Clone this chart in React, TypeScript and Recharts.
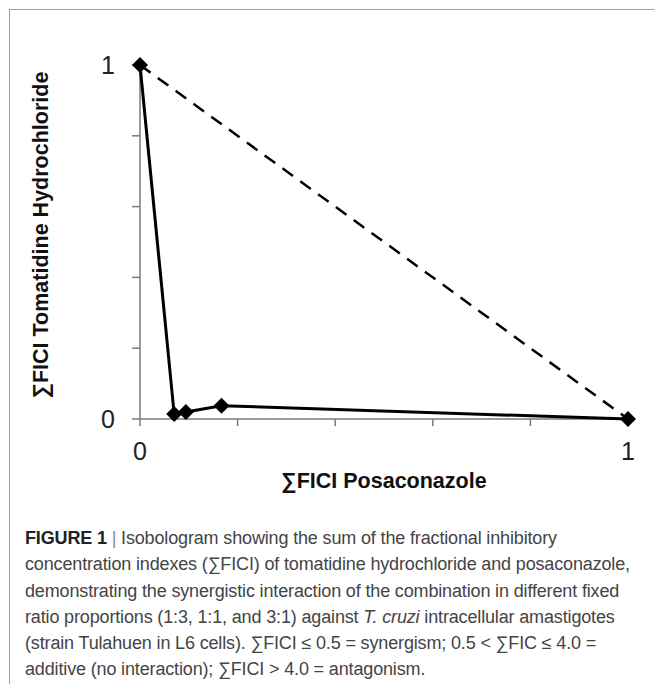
import React from "react";
import { ScatterChart, Scatter, XAxis, YAxis, Label } from "recharts";

// ∑FICI values (fixed ratios 1:3, 1:1, 3:1 between the single drugs)
const posaconazoleFici = [0, 0.07, 0.094, 0.167, 1];
const tomatidineFici = [1, 0.014, 0.02, 0.0375, 0];
// line of additivity
const additiveX = [0, 1];
const additiveY = [1, 0];
const axisTicks = [0, 0.2, 0.4, 0.6, 0.8, 1];
const labelledTicks = [0, 1];

const combination = posaconazoleFici.map((x, i) => ({ x, y: tomatidineFici[i] }));
const additivity = additiveX.map((x, i) => ({ x, y: additiveY[i] }));

const chartFont = "'Liberation Sans', Arial, sans-serif";
const captionFont = "'Liberation Sans', Arial, sans-serif";

const Diamond = (props: any) => {
    const { cx, cy } = props;
    const r = 8;
    return (
        <polygon
            points={`${cx},${cy - r} ${cx + r},${cy} ${cx},${cy + r} ${cx - r},${cy}`}
            fill="#000"
        />
    );
};

const NoShape = () => <g />;

const tickText = (v: number) => (labelledTicks.includes(v) ? String(v) : "");

const YTitle = (props: any) => {
    const vb = props.viewBox;
    const x = vb.x + 41;
    const y = vb.y + vb.height / 2 - 7;
    return (
        <text
            x={x}
            y={y}
            transform={`rotate(-90, ${x}, ${y})`}
            textAnchor="middle"
            dominantBaseline="central"
            fontFamily={chartFont}
            fontWeight="bold"
            fontSize={21.5}
            fill="#111"
        >
            ∑FICI Tomatidine Hydrochloride
        </text>
    );
};

const App = () => (
    <div
        style={{
            position: "absolute",
            left: 0,
            top: 0,
            width: 654,
            height: 684,
            background: "#fff",
            overflow: "hidden",
        }}
    >
        <div
            style={{
                position: "absolute",
                left: 9,
                top: 9,
                width: 660,
                height: 700,
                borderTop: "1.5px solid #a0a0a0",
                borderLeft: "1.5px solid #a0a0a0",
            }}
        />
        <div style={{ position: "absolute", left: 0, top: 0 }}>
            <ScatterChart
                width={654}
                height={500}
                margin={{ top: 65, right: 26, left: 0, bottom: 0 }}
            >
                <XAxis
                    type="number"
                    dataKey="x"
                    domain={[0, 1]}
                    ticks={axisTicks}
                    tickFormatter={tickText}
                    height={81}
                    tickSize={7}
                    tickMargin={16}
                    axisLine={{ stroke: "#7a7a7a", strokeWidth: 1.5 }}
                    tickLine={{ stroke: "#7a7a7a", strokeWidth: 1.5 }}
                    tick={{ fill: "#222", fontSize: 25, fontFamily: chartFont }}
                >
                    <Label
                        value="∑FICI Posaconazole"
                        position="insideBottom"
                        offset={12}
                        fill="#111"
                        fontSize={21.5}
                        fontWeight="bold"
                        fontFamily={chartFont}
                    />
                </XAxis>
                <YAxis
                    type="number"
                    dataKey="y"
                    domain={[0, 1]}
                    ticks={axisTicks}
                    tickFormatter={tickText}
                    width={140}
                    tickSize={8}
                    tickMargin={17}
                    axisLine={{ stroke: "#7a7a7a", strokeWidth: 1.5 }}
                    tickLine={{ stroke: "#7a7a7a", strokeWidth: 1.5 }}
                    tick={{ fill: "#222", fontSize: 25, fontFamily: chartFont }}
                >
                    <Label content={<YTitle />} />
                </YAxis>
                <Scatter
                    data={additivity}
                    line={{ stroke: "#000", strokeWidth: 2.5, strokeDasharray: "13 9" }}
                    shape={<NoShape />}
                    isAnimationActive={false}
                />
                <Scatter
                    data={combination}
                    line={{ stroke: "#000", strokeWidth: 3 }}
                    shape={<Diamond />}
                    isAnimationActive={false}
                />
            </ScatterChart>
        </div>
        <div
            style={{
                position: "absolute",
                left: 25,
                top: 525,
                width: 625,
                fontFamily: captionFont,
                fontSize: 18,
                letterSpacing: "-0.15px",
                lineHeight: "26.3px",
                color: "#444",
                whiteSpace: "nowrap",
            }}
        >
            <div>
                <b style={{ color: "#222" }}>FIGURE 1</b>
                <span style={{ color: "#888" }}> | </span>
                Isobologram showing the sum of the fractional inhibitory
            </div>
            <div>concentration indexes (∑FICI) of tomatidine hydrochloride and posaconazole,</div>
            <div>demonstrating the synergistic interaction of the combination in different fixed</div>
            <div>
                ratio proportions (1:3, 1:1, and 3:1) against <i>T. cruzi</i> intracellular amastigotes
            </div>
            <div>(strain Tulahuen in L6 cells). ∑FICI ≤ 0.5 = synergism; 0.5 &lt; ∑FIC ≤ 4.0 =</div>
            <div>additive (no interaction); ∑FICI &gt; 4.0 = antagonism.</div>
        </div>
    </div>
);

export default App;
